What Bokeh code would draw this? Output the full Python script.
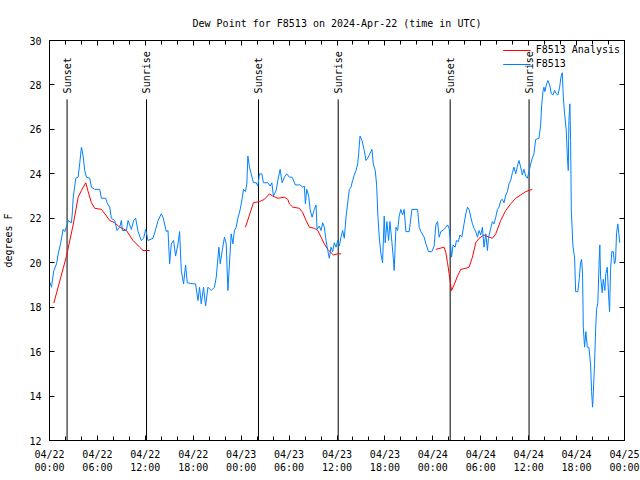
import math
from bokeh.plotting import figure
from bokeh.models import (Range1d, LinearAxis, SingleIntervalTicker, Legend, LegendItem,
                          CustomJSTickFormatter)
from bokeh.core.properties import value
from bokeh.embed import file_html
from bokeh.resources import INLINE

# ---- data (hours since 2024-04-22 00:00 UTC) ----
obs_hours = [0.04, 0.25, 0.54, 0.88, 1.09, 1.38, 1.71, 1.91, 2.21, 2.34, 2.75, 2.88, 2.96, 3.29, 3.59,
             3.79, 4.0, 4.21, 4.41, 4.63, 5.04, 5.25, 5.66, 6.29, 6.5, 7.04, 7.21, 7.54, 7.75, 8.16,
             8.46, 8.79, 9.0, 9.13, 9.63, 9.84, 10.04, 10.25, 10.54, 10.79, 11.09, 11.5, 11.79, 12.04,
             12.34, 12.96, 13.29, 13.59, 14.0, 14.21, 14.63, 14.84, 15.04, 15.25, 15.54, 15.79, 16.09,
             16.29, 16.5, 16.79, 17.04, 17.25, 17.96, 18.29, 18.59, 18.79, 19.0, 19.29, 19.54, 19.84,
             20.25, 20.66, 20.88, 21.21, 21.38, 21.63, 21.91, 22.13, 22.34, 22.46, 22.75, 22.96, 23.16,
             23.38, 23.59, 23.88, 24.13, 24.29, 24.54, 24.71, 24.84, 25.04, 25.25, 25.54, 25.88, 26.09,
             26.29, 26.59, 26.79, 27.34, 27.63, 27.84, 28.04, 28.38, 28.59, 28.88, 29.13, 29.41, 29.71,
             30.04, 30.38, 30.79, 31.38, 31.71, 31.91, 32.04, 32.21, 32.46, 32.63, 32.88, 33.16, 33.38,
             33.5, 33.79, 34.0, 34.21, 34.41, 34.63, 34.84, 35.04, 35.25, 35.46, 35.66, 35.88, 36.09,
             36.29, 36.5, 36.71, 36.91, 37.13, 37.34, 37.54, 37.75, 37.96, 38.16, 38.38, 38.59, 38.71,
             38.88, 39.13, 39.41, 39.63, 39.84, 40.13, 40.38, 40.54, 40.79, 40.96, 41.13, 41.29, 41.5,
             41.71, 41.91, 42.04, 42.25, 42.46, 42.63, 42.88, 43.04, 43.16, 43.38, 43.59, 43.79, 44.0,
             44.21, 44.41, 44.63, 45.04, 45.38, 46.09, 46.29, 46.5, 46.91, 47.13, 47.46, 47.88, 48.16,
             48.38, 48.59, 48.79, 49.0, 49.41, 49.63, 49.84, 50.04, 50.16, 50.34, 50.54, 50.79, 50.96,
             51.21, 51.38, 51.63, 51.91, 52.13, 52.34, 52.54, 52.75, 52.96, 53.16, 53.38, 53.59, 53.79,
             54.0, 54.21, 54.41, 54.63, 54.84, 54.96, 55.25, 55.46, 55.66, 55.88, 56.09, 56.29, 56.5,
             56.71, 56.91, 57.13, 57.34, 57.54, 57.75, 57.96, 58.16, 58.38, 58.59, 58.79, 59.0, 59.21,
             59.41, 59.63, 59.84, 60.04, 60.25, 60.46, 60.66, 60.88, 61.29, 61.5, 61.63, 61.79, 61.91,
             62.04, 62.21, 62.41, 62.63, 62.84, 63.04, 63.25, 63.46, 63.66, 63.88, 64.04, 64.21, 64.34,
             64.5, 64.71, 64.84, 64.96, 65.04, 65.16, 65.25, 65.34, 65.54, 65.75, 65.88, 66.16, 66.34,
             66.5, 66.63, 66.75, 66.84, 67.0, 67.16, 67.34, 67.54, 67.75, 67.88, 68.0, 68.09, 68.25,
             68.38, 68.5, 68.66, 68.84, 68.91, 69.0, 69.21, 69.34, 69.54, 69.66, 69.84, 70.0, 70.13,
             70.25, 70.41, 70.59, 70.75, 70.88, 71.0, 71.16, 71.29, 71.41]
obs_dewpt = [19.12, 18.9, 19.65, 19.95, 20.4, 20.85, 21.5, 21.4, 21.7, 21.9, 21.8, 22.35, 22.9, 23.8, 23.85,
             24.5, 25.2, 24.8, 24.15, 23.85, 23.8, 23.4, 23.3, 23.3, 22.9, 22.9, 22.7, 22.5, 22.0, 21.9,
             21.45, 21.6, 21.9, 21.45, 21.45, 21.9, 21.7, 21.5, 21.9, 22.0, 21.4, 21.0, 21.1, 21.5,
             21.0, 21.1, 21.5, 21.9, 22.2, 22.05, 21.4, 21.45, 19.95, 20.85, 21.0, 20.3, 20.85,
             21.4, 19.65, 19.05, 19.9, 19.1, 19.05, 19.05, 18.3, 18.9, 18.15, 18.9, 18.05, 18.9,
             18.75, 18.9, 19.35, 20.7, 19.95, 20.55, 21.15, 20.85, 18.75, 19.5, 21.3, 20.85, 21.45,
             21.6, 22.0, 22.4, 22.9, 23.3, 23.2, 23.55, 24.8, 24.3, 24.0, 23.6, 23.6, 23.45,
             24.0, 24.0, 23.6, 23.6, 23.45, 23.6, 23.0, 23.25, 23.7, 24.2, 23.6, 23.85, 24.0,
             23.85, 23.85, 23.5, 23.5, 23.4, 23.45, 22.65, 23.3, 23.0, 22.4, 22.05, 22.4, 22.6,
             21.5, 21.65, 21.45, 21.8, 21.6, 21.0, 20.55, 20.2, 20.7, 20.5, 20.9, 20.7, 21.0,
             20.75, 21.15, 21.45, 21.1, 22.05, 22.7, 23.3, 23.4, 23.7, 23.95, 24.15, 24.45, 24.9,
             25.7, 25.5, 25.05, 24.6, 24.7, 24.9, 25.1, 24.45, 24.15, 23.5, 22.05, 21.15, 20.4,
             20.0, 22.1, 20.9, 21.85, 21.0, 21.85, 20.9, 20.25, 19.65, 21.6, 21.45, 22.1, 22.4,
             22.15, 22.4, 21.4, 21.4, 22.4, 22.4, 21.6, 21.4, 21.15, 20.85, 20.5, 20.5, 20.75,
             21.7, 21.85, 21.15, 21.4, 21.5, 21.6, 21.7, 21.55, 21.15, 20.25, 20.8, 20.7, 21.0,
             20.95, 21.25, 21.15, 21.75, 22.2, 22.5, 22.4, 22.05, 21.75, 21.55, 21.4, 21.15, 21.45,
             21.25, 21.6, 20.7, 21.3, 20.55, 21.1, 21.55, 21.85, 21.75, 22.05, 22.4, 22.5, 22.8,
             22.85, 22.7, 23.05, 23.2, 23.55, 23.7, 24.05, 24.3, 24.0, 24.35, 24.6, 24.3, 23.95,
             24.2, 23.9, 23.8, 24.1, 24.45, 24.7, 24.9, 25.55, 25.6, 26.2, 27.1, 27.7, 27.9,
             27.7, 28.0, 28.2, 28.0, 27.6, 27.55, 27.75, 27.6, 27.55, 27.9, 28.35, 28.55, 27.45,
             26.7, 25.95, 24.8, 24.15, 26.4, 27.15, 25.5, 22.35, 20.75, 20.25, 18.7, 18.7, 19.3,
             20.0, 20.15, 19.5, 17.1, 16.2, 16.9, 16.2, 16.2, 15.45, 14.2, 13.5, 14.1, 15.45,
             16.95, 17.9, 18.2, 20.2, 20.8, 19.4, 18.65, 19.25, 18.75, 19.5, 19.8, 18.6, 17.8,
             19.65, 20.5, 20.5, 19.95, 20.1, 21.3, 21.75, 21.3, 20.9]

nan = float("nan")
ana_hours = [0.54, 2.13, 2.96, 3.59, 4.0, 4.54, 4.84, 5.25, 5.66, 6.5, 7.04, 7.54, 8.16, 8.79, 9.63,
             10.46, 11.29, 11.71, 12.54, nan,
             24.54, 25.54, 26.29, 26.91, 27.54, 27.96, 28.59, 29.41, 29.84, 30.04, 30.46, 31.29, 31.71,
             32.13, 32.54, 33.16, 33.59, 34.0, 34.41, 34.84, 35.25, 35.54, 36.09, 36.5, nan,
             48.38, 49.41, 49.63, 49.84, 50.04, 50.34, 50.66, 51.09, 51.5, 52.13, 52.54, 52.96, 53.38,
             53.79, 54.41, 55.04, 55.46, 55.88, 56.5, 57.13, 57.75, 58.38, 59.0, 59.63, 60.46]
ana_dewpt = [18.18, 20.3, 21.7, 22.95, 23.25, 23.6, 23.2, 22.7, 22.45, 22.4, 22.15, 21.9, 21.8, 21.6, 21.45,
             21.0, 20.7, 20.55, 20.55, nan,
             21.6, 22.7, 22.75, 22.85, 23.1, 23.0, 22.9, 22.95, 22.85, 22.65, 22.5, 22.45, 22.25,
             21.9, 21.6, 21.55, 21.45, 21.15, 20.85, 20.6, 20.45, 20.35, 20.4, 20.4, nan,
             20.6, 20.7, 20.45, 20.0, 19.5, 18.75, 19.0, 19.4, 19.7, 19.75, 19.8, 20.25, 20.9,
             21.1, 21.25, 21.15, 21.1, 21.3, 21.9, 22.35, 22.65, 22.9, 23.05, 23.2, 23.3]

sun_hours = [2.2, 12.15, 26.17, 36.15, 50.17, 60.05]
sun_labels = ["Sunset", "Sunrise", "Sunset", "Sunrise", "Sunset", "Sunrise"]

tick_hours = [0, 6, 12, 18, 24, 30, 36, 42, 48, 54, 60, 66, 72]
tick_labels = ["04/22\n00:00", "04/22\n06:00", "04/22\n12:00", "04/22\n18:00",
               "04/23\n00:00", "04/23\n06:00", "04/23\n12:00", "04/23\n18:00",
               "04/24\n00:00", "04/24\n06:00", "04/24\n12:00", "04/24\n18:00",
               "04/25\n00:00"]

# ---- styles ----
FONT = "DejaVu Sans Mono"
FS = "10px"
RED = "#ff0000"
BLUE = "#0080ff"
SUN_LINE_TOP = 27.35
SUN_TEXT_Y = 27.62
Y_MIN = 12

p = figure(width=640, height=480, output_backend="svg", toolbar_location=None,
           x_range=Range1d(0, 72), y_range=Range1d(12, 30),
           title="Dew Point for F8513 on 2024-Apr-22 (time in UTC)")
p.min_border_left = 48
p.min_border_right = 16
p.min_border_top = 40
p.min_border_bottom = 40
p.xgrid.visible = False
p.ygrid.visible = False
p.outline_line_color = "black"
p.outline_line_width = 1
p.background_fill_color = "white"
p.border_fill_color = "white"

p.title.align = "center"
p.title.text_font = FONT
p.title.text_font_size = FS
p.title.text_font_style = "normal"
p.title.text_color = "black"
p.title.standoff = 24

xt = SingleIntervalTicker(interval=6, num_minor_ticks=3)
yt = SingleIntervalTicker(interval=2, num_minor_ticks=0)

def style_axis(ax, labels=True):
    ax.axis_line_color = "black"
    ax.major_tick_in = 5
    ax.major_tick_out = 0
    ax.minor_tick_in = 4
    ax.minor_tick_out = 0
    ax.major_tick_line_color = "black"
    ax.minor_tick_line_color = "black"
    ax.major_label_text_font = FONT
    ax.major_label_text_font_size = FS if labels else "0px"
    ax.major_label_text_color = "black"
    ax.axis_label_text_font = FONT
    ax.axis_label_text_font_size = FS
    ax.axis_label_text_font_style = "normal"
    ax.axis_label_text_color = "black"
    if not labels:
        ax.major_label_standoff = 0
        ax.formatter = CustomJSTickFormatter(code="return '';")

xa = p.xaxis[0]
xa.ticker = xt
style_axis(xa)
xa.major_label_overrides = {h: lab for h, lab in zip(tick_hours, tick_labels)}
xa.major_label_standoff = 8

ya = p.yaxis[0]
ya.ticker = yt
style_axis(ya)
ya.axis_label = "degrees F"
ya.major_label_standoff = 8
ya.axis_label_standoff = 12

top = LinearAxis(ticker=xt)
style_axis(top, labels=False)
p.add_layout(top, "above")
right = LinearAxis(ticker=yt)
style_axis(right, labels=False)
p.add_layout(right, "right")

# sunrise / sunset markers
p.segment(x0=sun_hours, y0=[Y_MIN] * len(sun_hours), x1=sun_hours,
          y1=[SUN_LINE_TOP] * len(sun_hours), line_color="black", line_width=1)
p.text(x=sun_hours, y=[SUN_TEXT_Y] * len(sun_hours), text=sun_labels, angle=math.pi / 2,
       text_align="left", text_baseline="middle", text_font=value(FONT),
       text_font_size=FS, text_color="black")

r_ana = p.line(ana_hours, ana_dewpt, line_color=RED, line_width=1)
r_obs = p.line(obs_hours, obs_dewpt, line_color=BLUE, line_width=1)

legend = Legend(items=[LegendItem(label="F8513 Analysis", renderers=[r_ana]),
                       LegendItem(label="F8513", renderers=[r_obs])],
                location="top_right")
legend.border_line_alpha = 0
legend.background_fill_alpha = 0
legend.label_text_font = FONT
legend.label_text_font_size = FS
legend.label_text_color = "black"
legend.glyph_width = 28
legend.glyph_height = 10
legend.label_height = 10
legend.spacing = 3
legend.padding = 2
legend.margin = 2
p.add_layout(legend)

open("out.html", "w").write(file_html(p, INLINE))
